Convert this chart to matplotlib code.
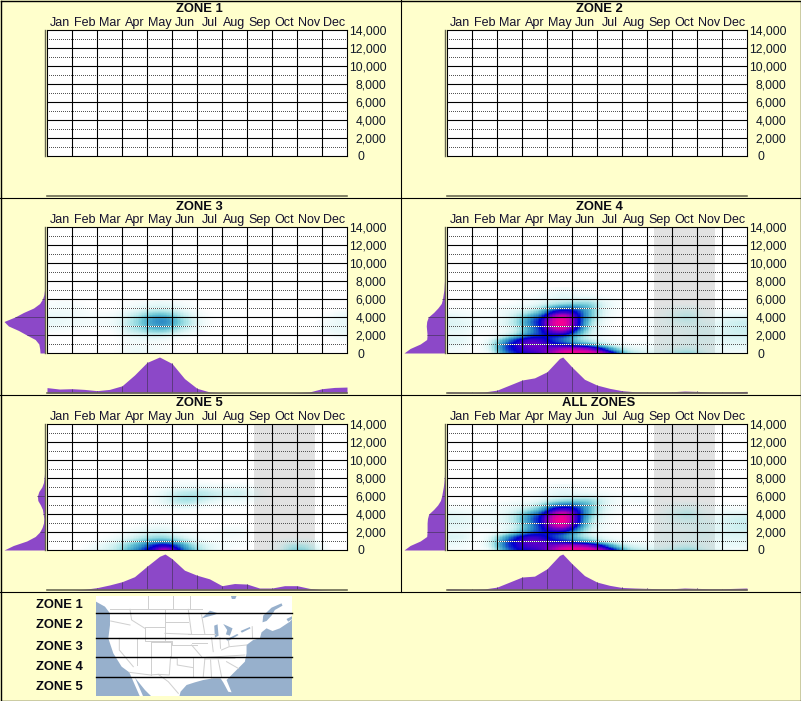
import matplotlib
matplotlib.use('Agg')
import matplotlib.pyplot as plt
from matplotlib.colors import LinearSegmentedColormap
from matplotlib.transforms import ScaledTranslation
import numpy as np

plt.rcParams['font.family'] = ['Liberation Sans', 'DejaVu Sans']

W, H = 801, 701
BG = '#FFFFCC'
PURPLE = '#8C48C8'
TICK_PURPLE = '#5C3A80'
AXIS_GREY = '#666650'
PX = 0.72  # one pixel in points at dpi 100

months = ['Jan', 'Feb', 'Mar', 'Apr', 'May', 'Jun', 'Jul', 'Aug', 'Sep', 'Oct', 'Nov', 'Dec']
elev_ticks = [0, 2000, 4000, 6000, 8000, 10000, 12000, 14000]
zone_names = ['ZONE 1', 'ZONE 2', 'ZONE 3', 'ZONE 4', 'ZONE 5', 'ALL ZONES']
map_labels = ['ZONE 1', 'ZONE 2', 'ZONE 3', 'ZONE 4', 'ZONE 5']

# heat tables: one row per 500 ft starting at 0, two columns per month
heat_3 = [
    [0, 0, 0, 0, 0, 0, 5, 6, 3, 2, 0, 0, 0, 0, 0, 0, 0, 0, 0, 0, 0, 0, 0, 0],
    [0, 0, 0, 0, 0, 0, 4, 5, 3, 2, 0, 0, 0, 0, 0, 0, 0, 0, 0, 0, 0, 0, 0, 0],
    [0, 0, 0, 0, 0, 0, 4, 4, 3, 2, 0, 0, 0, 0, 0, 0, 0, 0, 0, 0, 0, 0, 0, 0],
    [0, 0, 0, 0, 0, 0, 4, 5, 6, 4, 1, 0, 0, 0, 0, 0, 0, 0, 0, 0, 0, 0, 0, 2],
    [0, 0, 0, 0, 0, 0, 8, 10, 14, 12, 6, 2, 0, 0, 0, 0, 0, 0, 0, 0, 0, 0, 1, 5],
    [3, 2, 1, 0, 0, 2, 14, 20, 28, 28, 16, 8, 2, 0, 0, 0, 0, 0, 0, 0, 0, 0, 6, 7],
    [6, 5, 4, 3, 3, 6, 16, 26, 38, 40, 26, 14, 4, 0, 0, 0, 0, 0, 0, 0, 0, 0, 5, 7],
    [7, 6, 5, 4, 3, 6, 16, 28, 42, 46, 30, 16, 5, 0, 0, 0, 0, 0, 0, 0, 0, 0, 4, 7],
    [7, 6, 5, 3, 3, 5, 14, 24, 38, 38, 24, 12, 3, 0, 0, 0, 0, 0, 0, 0, 0, 0, 3, 7],
    [5, 5, 4, 2, 1, 2, 8, 14, 22, 22, 14, 7, 1, 0, 0, 0, 0, 0, 0, 0, 0, 0, 0, 4],
    [3, 4, 3, 1, 0, 0, 4, 8, 12, 12, 8, 3, 0, 0, 0, 0, 0, 0, 0, 0, 0, 0, 0, 0],
    [2, 3, 1, 0, 0, 0, 2, 3, 6, 6, 3, 1, 0, 0, 0, 0, 0, 0, 0, 0, 0, 0, 0, 0],
]
heat_4 = [
    [3, 3, 0, 5, 40, 58, 66, 72, 85, 100, 100, 98, 85, 58, 22, 14, 10, 12, 20, 24, 12, 8, 4, 4],
    [5, 3, 0, 12, 50, 64, 74, 76, 78, 86, 85, 78, 56, 24, 10, 6, 5, 5, 12, 12, 8, 5, 6, 6],
    [8, 6, 0, 12, 46, 66, 78, 76, 62, 54, 42, 30, 14, 6, 3, 2, 4, 5, 6, 8, 8, 6, 8, 8],
    [10, 8, 0, 8, 30, 55, 70, 66, 52, 42, 22, 12, 5, 2, 0, 0, 3, 5, 6, 8, 10, 8, 10, 10],
    [5, 5, 0, 0, 8, 22, 45, 55, 62, 58, 32, 10, 2, 0, 0, 0, 3, 4, 5, 8, 10, 8, 12, 12],
    [8, 6, 2, 2, 4, 12, 36, 56, 84, 88, 50, 14, 3, 0, 0, 0, 3, 5, 6, 8, 10, 8, 12, 14],
    [10, 8, 3, 4, 8, 18, 40, 60, 95, 100, 62, 18, 4, 0, 0, 0, 3, 5, 8, 10, 10, 8, 12, 14],
    [10, 8, 5, 5, 8, 20, 44, 62, 96, 100, 64, 22, 5, 0, 0, 0, 3, 6, 12, 14, 8, 6, 12, 14],
    [8, 5, 3, 3, 6, 16, 34, 52, 86, 96, 62, 30, 8, 2, 0, 0, 2, 6, 14, 16, 6, 4, 8, 8],
    [4, 3, 2, 3, 5, 10, 18, 32, 64, 70, 58, 30, 10, 2, 0, 0, 0, 4, 10, 12, 4, 2, 4, 3],
    [1, 1, 0, 2, 4, 6, 8, 18, 36, 46, 42, 30, 10, 3, 0, 0, 1, 2, 5, 6, 2, 1, 1, 1],
    [0, 0, 0, 0, 0, 2, 4, 8, 16, 20, 24, 24, 10, 3, 0, 0, 0, 0, 0, 0, 0, 0, 0, 0],
    [0, 0, 0, 0, 0, 0, 2, 4, 8, 10, 8, 8, 3, 1, 0, 0, 0, 0, 0, 0, 0, 0, 0, 0],
    [0, 0, 0, 0, 0, 0, 0, 2, 6, 8, 3, 2, 0, 0, 0, 0, 0, 0, 0, 0, 0, 0, 0, 0],
    [0, 0, 0, 0, 0, 0, 0, 0, 2, 4, 1, 0, 0, 0, 0, 0, 0, 0, 0, 0, 0, 0, 0, 0],
]
heat_5 = [
    [0, 0, 0, 5, 10, 16, 32, 50, 70, 95, 62, 34, 15, 6, 2, 0, 0, 0, 6, 24, 26, 12, 0, 0],
    [0, 0, 0, 3, 8, 14, 26, 40, 58, 65, 50, 24, 12, 6, 3, 2, 0, 0, 4, 18, 18, 8, 0, 0],
    [0, 0, 0, 0, 4, 8, 16, 26, 36, 38, 26, 14, 6, 3, 3, 2, 0, 0, 2, 6, 6, 3, 0, 0],
    [0, 0, 0, 0, 1, 4, 8, 14, 20, 20, 12, 6, 3, 3, 4, 3, 0, 0, 0, 0, 0, 0, 0, 0],
    [0, 0, 0, 0, 0, 0, 4, 8, 12, 12, 5, 3, 2, 2, 6, 5, 0, 0, 0, 0, 0, 0, 0, 0],
    [0, 0, 0, 0, 0, 0, 1, 3, 6, 6, 2, 0, 0, 0, 3, 2, 0, 0, 0, 0, 0, 0, 0, 0],
    [0, 0, 0, 0, 0, 0, 0, 0, 3, 3, 0, 0, 0, 0, 0, 0, 0, 0, 0, 0, 0, 0, 0, 0],
    [0, 0, 0, 0, 0, 0, 0, 0, 0, 0, 0, 0, 0, 0, 0, 0, 0, 0, 0, 0, 0, 0, 0, 0],
    [0, 0, 0, 0, 0, 0, 0, 0, 0, 0, 0, 0, 0, 0, 0, 0, 0, 0, 0, 0, 0, 0, 0, 0],
    [0, 0, 0, 0, 0, 0, 0, 0, 0, 2, 3, 3, 0, 0, 0, 0, 0, 0, 0, 0, 0, 0, 0, 0],
    [0, 0, 0, 0, 0, 0, 0, 0, 2, 6, 12, 12, 5, 3, 2, 3, 0, 0, 0, 0, 0, 0, 0, 0],
    [0, 0, 0, 0, 0, 0, 0, 0, 4, 10, 20, 22, 14, 8, 5, 6, 3, 0, 0, 0, 0, 0, 0, 0],
    [0, 0, 0, 0, 0, 0, 0, 0, 5, 10, 18, 20, 18, 15, 12, 14, 7, 2, 0, 0, 0, 0, 0, 0],
    [0, 0, 0, 0, 0, 0, 0, 0, 3, 7, 14, 16, 16, 12, 12, 14, 6, 1, 0, 0, 0, 0, 0, 0],
    [0, 0, 0, 0, 0, 0, 0, 0, 1, 3, 6, 6, 8, 5, 6, 6, 2, 0, 0, 0, 0, 0, 0, 0],
    [0, 0, 0, 0, 0, 0, 0, 0, 0, 1, 2, 2, 1, 0, 0, 0, 0, 0, 0, 0, 0, 0, 0, 0],
]
heat_all = [
    [3, 3, 0, 5, 38, 58, 64, 70, 85, 100, 100, 98, 86, 58, 24, 16, 12, 14, 20, 24, 12, 8, 4, 4],
    [5, 3, 0, 12, 48, 64, 72, 74, 78, 86, 85, 78, 56, 26, 12, 8, 6, 6, 12, 12, 8, 5, 6, 6],
    [8, 6, 0, 12, 44, 64, 76, 74, 62, 54, 42, 30, 14, 7, 4, 3, 5, 5, 6, 8, 8, 6, 8, 8],
    [12, 10, 0, 8, 30, 54, 68, 64, 52, 42, 22, 12, 6, 3, 2, 2, 4, 6, 7, 8, 10, 8, 10, 10],
    [6, 5, 1, 1, 8, 22, 45, 55, 62, 58, 32, 10, 3, 1, 1, 1, 4, 5, 6, 8, 10, 8, 12, 12],
    [8, 7, 3, 3, 5, 12, 36, 56, 84, 88, 50, 14, 4, 1, 0, 0, 3, 5, 7, 8, 10, 8, 12, 14],
    [10, 8, 4, 5, 8, 18, 40, 60, 95, 100, 62, 18, 5, 1, 0, 0, 3, 5, 9, 10, 10, 8, 12, 14],
    [10, 9, 6, 6, 9, 20, 44, 62, 96, 100, 64, 22, 6, 1, 0, 0, 3, 6, 13, 15, 8, 6, 12, 14],
    [8, 6, 4, 4, 7, 16, 34, 52, 86, 96, 62, 30, 8, 3, 1, 0, 2, 6, 14, 17, 6, 4, 8, 8],
    [4, 3, 2, 3, 5, 10, 18, 32, 64, 70, 58, 30, 11, 3, 1, 1, 0, 4, 10, 12, 4, 2, 4, 3],
    [1, 1, 0, 2, 4, 6, 8, 18, 36, 46, 42, 30, 11, 4, 2, 2, 1, 2, 5, 6, 2, 1, 1, 1],
    [0, 0, 0, 0, 0, 2, 4, 8, 16, 20, 24, 24, 12, 5, 3, 4, 2, 0, 0, 0, 0, 0, 0, 0],
    [0, 0, 0, 0, 0, 0, 2, 4, 8, 10, 9, 9, 5, 3, 3, 4, 2, 0, 0, 0, 0, 0, 0, 0],
    [0, 0, 0, 0, 0, 0, 0, 2, 6, 8, 4, 3, 2, 1, 1, 1, 0, 0, 0, 0, 0, 0, 0, 0],
    [0, 0, 0, 0, 0, 0, 0, 0, 2, 4, 1, 1, 0, 0, 0, 0, 0, 0, 0, 0, 0, 0, 0, 0],
]

# bottom profile, sampled at every half month, plus the crest read on its own
month_knots = [i / 2 for i in range(25)]
bottom_3 = [.15, .11, .12, .10, .065, .10, .20, .50, .85, 1.0, .82, .40, .13, .03, .01, 0, 0, 0, 0, 0, .01, .03, .12, .155, .165]
bottom_4 = [.03, .025, .02, .03, .08, .22, .36, .42, .59, .96, .72, .38, .22, .13, .065, .035, .03, .03, .035, .055, .045, .03, .03, .035, .045]
bottom_5 = [0, 0, 0, .02, .065, .14, .23, .37, .66, .935, .87, .55, .41, .31, .12, .18, .165, .055, .055, .12, .12, .045, .01, 0, 0]
bottom_all = [.03, .025, .02, .03, .08, .22, .36, .385, .59, .96, .73, .40, .22, .13, .07, .055, .045, .035, .035, .055, .045, .035, .035, .045, .055]
crest_4 = (4.63, 1.0)
crest_5 = (4.72, 1.0)
crest_all = (4.63, 1.0)

# left profile, sampled at every 500 ft
left_3 = [.11, .12, .14, .23, .44, .64, .89, 1.0, .73, .52, .27, .12, .05, .015, 0]
left_4 = [1.0, .85, .60, .44, .43, .44, .45, .44, .40, .27, .165, .08, .05, .033, .015, .008, 0]
left_5 = [1.0, .77, .44, .23, .12, .06, .025, .017, .033, .05, .10, .165, .175, .14, .066, .025, .01, 0]
left_all = [1.0, .85, .60, .44, .43, .43, .43, .42, .39, .27, .17, .10, .07, .05, .03, .015, .005, 0]

# grey window: (first, last) in month units
grey_band = (8.27, 10.73)

zones = [
    (None, None, None, None, False),
    (None, None, None, None, False),
    (heat_3, bottom_3, None, left_3, False),
    (heat_4, bottom_4, crest_4, left_4, True),
    (heat_5, bottom_5, crest_5, left_5, True),
    (heat_all, bottom_all, crest_all, left_all, True),
]

# the pale end is see-through so the grey window still shows under it
heat_cmap = LinearSegmentedColormap.from_list('heat', [
    (0.00, (0.65, 0.90, 0.90, 0)),
    (0.03, (0.67, 0.92, 0.92, 0.12)),
    (0.10, (0.62, 0.886, 0.886, 0.35)),
    (0.18, (0.51, 0.85, 0.863, 0.6)),
    (0.30, (0.36, 0.75, 0.82, 0.95)),
    (0.45, '#2484C4'),
    (0.60, '#0000D0'),
    (0.75, '#6000C8'),
    (0.88, '#C000B0'),
    (1.00, '#FF0090'),
])


def px_axes(fig, left, top, right, bottom, **kw):
    return fig.add_axes([left / W, 1 - bottom / H, (right - left) / W, (bottom - top) / H], **kw)


def soften(table, scale=8):
    # blocky upscaling plus two box passes, so the cells blend without ringing
    arr = np.repeat(np.repeat(np.array(table, dtype=float) / 100, scale, axis=0), scale, axis=1)
    kernel = np.convolve(np.ones(scale), np.ones(scale))
    kernel /= kernel.sum()
    n = len(kernel) // 2
    for axis in (0, 1):
        pad = [(n, n), (0, 0)] if axis == 0 else [(0, 0), (n, n)]
        padded = np.pad(arr, pad, mode='edge')
        arr = np.apply_along_axis(lambda v: np.convolve(v, kernel, mode='valid'), axis, padded)
    return arr


def draw_main(fig, x0, y0, heat, band):
    ax = px_axes(fig, x0 + 47, y0 + 30, x0 + 347, y0 + 156, facecolor='white')
    if band:
        ax.axvspan(*grey_band, color='#E2E2E2', lw=0, zorder=1)
    if heat is not None:
        top = 500 * len(heat) - 250
        ax.imshow(soften(heat), origin='lower', extent=(0, 12, -250, top), aspect='auto', cmap=heat_cmap,
                  vmin=0, vmax=1, interpolation='nearest', zorder=2)
    ax.set_xlim(0, 12)
    ax.set_ylim(0, 14000)
    for v in range(1000, 14000, 2000):
        # white dots only read over the dark part of the heat
        ax.plot([2, 8], [v, v], color='#FFFFFF', lw=PX, dashes=(1, 1), dash_capstyle='butt', zorder=3, antialiased=False)
        ax.axhline(v, color='#555555', lw=PX, dashes=(1, 2), dash_capstyle='butt', zorder=3.1, antialiased=False)
    for v in elev_ticks[1:-1]:
        ax.axhline(v, color='black', lw=PX * 1.1, zorder=4)
    for m in range(1, 12):
        ax.axvline(m, color='black', lw=PX * 1.1, zorder=4)
    for s in ax.spines.values():
        s.set_linewidth(PX * 1.1)
        s.set_zorder(5)

    ax.set_xticks(np.arange(12) + 0.5)
    ax.set_xticklabels(months, fontsize=9, color='#14102E')
    ax.tick_params(axis='x', length=0, top=True, labeltop=True, bottom=False, labelbottom=False, pad=0.8)
    ax.yaxis.tick_right()
    ax.set_yticks(elev_ticks)
    ax.set_yticklabels([f'{v:,}' for v in elev_ticks], fontsize=8.7, color='#101828', ha='right')
    ax.tick_params(axis='y', length=0, pad=28.5)
    # the zero label starts where the 4-digit labels start
    zero = ax.get_yticklabels()[0]
    zero.set_ha('left')
    zero.set_transform(zero.get_transform() + ScaledTranslation(-29.5 / 100, 0, fig.dpi_scale_trans))


def draw_bottom(fig, x0, y0, values, crest):
    ax = px_axes(fig, x0 + 47, y0 + 160, x0 + 347, y0 + 196)
    ax.axis('off')
    ax.set_xlim(0, 12)
    ax.set_ylim(0, 1)
    if values is not None:
        xs, ys = list(month_knots), list(values)
        if crest is not None:
            k = int(np.searchsorted(xs, crest[0]))
            xs.insert(k, crest[0])
            ys.insert(k, crest[1])
        ax.fill_between(xs, 0, ys, color=PURPLE, lw=0, zorder=2)
        ax.vlines(month_knots[2:-1:2], 0, values[2:-1:2], color=TICK_PURPLE, lw=PX, zorder=3)
    ax.axhline(0, color=AXIS_GREY, lw=PX * 1.6, clip_on=False, zorder=4)


def draw_left(fig, x0, y0, values):
    ax = px_axes(fig, x0 + 4, y0 + 30, x0 + 44.5, y0 + 156)
    ax.axis('off')
    ax.set_xlim(1, 0)
    ax.set_ylim(0, 14000)
    if values is not None:
        elev = np.arange(len(values)) * 500
        ax.fill_betweenx(elev, 0, values, color=PURPLE, lw=0, zorder=2)
        ax.hlines(elev[4::4], 0, values[4::4], color=TICK_PURPLE, lw=PX, zorder=3)
    ax.axvline(0, color=AXIS_GREY, lw=PX * 1.4, clip_on=False, zorder=4)


def draw_map(fig):
    ax = px_axes(fig, 96, 596, 291.5, 696, facecolor='#97B0CC')
    ax.set_xlim(18, 605)
    ax.set_ylim(303, 3)
    ax.set_xticks([])
    ax.set_yticks([])
    for s in ax.spines.values():
        s.set_visible(False)
    land = [(18, 0), (610, 0), (610, 70), (600, 80), (570, 100), (548, 108), (530, 100), (515, 112),
            (510, 130), (490, 135), (470, 150), (470, 175), (465, 200), (440, 225), (420, 245), (410, 255),
            (425, 292), (415, 290), (400, 262), (392, 250), (370, 250), (340, 255), (315, 262), (290, 270),
            (272, 290), (268, 305), (185, 305), (165, 285), (135, 248), (160, 305), (150, 305), (118, 232),
            (95, 215), (70, 175), (55, 130), (60, 90), (60, 55), (45, 35), (18, 20)]
    ax.fill(*zip(*land), color='white', lw=0, zorder=1)
    water = [
        [(520, 62), (545, 38), (575, 25), (578, 32), (555, 45), (545, 62), (530, 78), (518, 82)],
        [(590, 72), (610, 62), (610, 70), (595, 80)],
        [(335, 70), (360, 47), (385, 55), (372, 60), (350, 66)],
        [(375, 128), (373, 92), (383, 88), (386, 122)],
        [(400, 87), (428, 100), (420, 122), (408, 118), (412, 105)],
        [(408, 134), (442, 117), (446, 120), (415, 138)],
        [(452, 108), (480, 96), (482, 100), (456, 113)],
        [(423, 3), (440, 3), (436, 12), (426, 12)],
    ]
    for poly in water:
        ax.fill(*zip(*poly), color='#97B0CC', lw=0, zorder=2)
    borders = [
        [(175, 3), (175, 42)], [(248, 3), (248, 42)], [(300, 3), (300, 42)],
        [(60, 43), (335, 43)], [(62, 78), (120, 90)], [(120, 43), (125, 75), (165, 100)],
        [(165, 95), (225, 95), (225, 138), (165, 138), (165, 95)], [(225, 43), (225, 95)],
        [(225, 80), (295, 80)], [(225, 115), (305, 118)], [(295, 43), (305, 118)],
        [(225, 138), (245, 138), (245, 150), (320, 150)],
        [(182, 140), (242, 140), (242, 185), (182, 185), (182, 140)],
        [(88, 130), (165, 130)], [(88, 130), (88, 165), (130, 215)], [(140, 130), (140, 210)],
        [(182, 185), (182, 240)], [(242, 185), (320, 185)], [(242, 190), (262, 190), (262, 210), (310, 218)],
        [(242, 185), (238, 240), (205, 238)], [(305, 150), (335, 185)], [(310, 185), (350, 185)],
        [(295, 118), (345, 118)], [(305, 145), (350, 145)], [(345, 118), (375, 118)],
        [(365, 128), (370, 170)], [(390, 128), (392, 160)], [(415, 135), (418, 155), (395, 165)],
        [(308, 185), (308, 245), (345, 245)], [(345, 190), (340, 245)], [(362, 195), (365, 250)],
        [(385, 195), (395, 245)], [(350, 187), (465, 180)], [(345, 192), (435, 190)],
        [(410, 200), (445, 220)], [(420, 130), (480, 130)], [(420, 155), (470, 150)], [(487, 95), (488, 130)],
        [(118, 232), (182, 240), (205, 238), (235, 260), (265, 295)], [(335, 60), (345, 118)],
    ]
    for line in borders:
        ax.plot(*zip(*line), color='#D0D0D0', lw=PX, zorder=3)
    return ax


fig = plt.figure(figsize=(W / 100, H / 100), dpi=100, facecolor=BG)
bg = fig.add_axes([0, 0, 1, 1])
bg.set_xlim(0, W)
bg.set_ylim(H, 0)
bg.axis('off')

bg.plot([0.5, W - 0.5, W - 0.5, 0.5, 0.5], [0.5, 0.5, H - 0.5, H - 0.5, 0.5], color='black', lw=PX * 1.4, clip_on=False)
bg.plot([400.5, 400.5], [0, 591.5], color='black', lw=PX * 1.1)
for y in [197.5, 394.5, 591.5]:
    bg.plot([0, W], [y, y], color='black', lw=PX * 1.1)

for i, (name, (heat, bottom, crest, left, band)) in enumerate(zip(zone_names, zones)):
    x0 = 400 * (i % 2)
    y0 = 197 * (i // 2)
    bg.text(x0 + 199, y0 + 9.5, name, fontsize=9.4, fontweight='bold', ha='center', va='center', color='#0A0A14')
    draw_main(fig, x0, y0, heat, band)
    draw_bottom(fig, x0, y0, bottom, crest)
    draw_left(fig, x0, y0, left)

map_ax = draw_map(fig)
for y in [613, 638, 657, 677]:
    bg.plot([96, 291.5], [y, y], color='black', lw=PX * 1.4, zorder=10)
bg.set_zorder(10)
bg.patch.set_visible(False)
for name, y in zip(map_labels, [605, 625, 647, 667, 687]):
    bg.text(83, y, name, fontsize=9.4, fontweight='bold', ha='right', va='center', color='#0A0A14')

fig.savefig('out.png', dpi=100, facecolor=BG)
